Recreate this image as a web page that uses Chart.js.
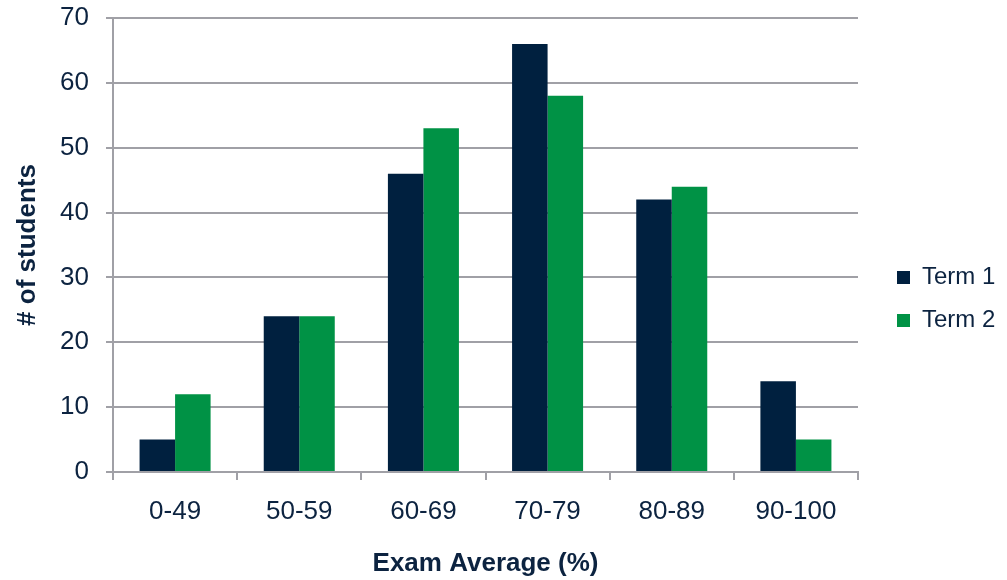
<!DOCTYPE html>
<html>
<head>
<meta charset="utf-8">
<script src="https://cdn.jsdelivr.net/npm/chart.js@4.4.0/dist/chart.umd.min.js"></script>
<style>
  html, body { margin: 0; padding: 0; background: #fff; }
  #wrap { width: 1007px; height: 580px; }
</style>
</head>
<body>
<div id="wrap"><canvas id="chart" width="1007" height="580"></canvas></div>
<script>
// Exam average distribution, two terms
const categories = ['0-49', '50-59', '60-69', '70-79', '80-89', '90-100'];
const term1 = [5, 24, 46, 66, 42, 14];
const term2 = [12, 24, 53, 58, 44, 5];
const yTicks = [0, 10, 20, 30, 40, 50, 60, 70];

const TEXT = '#0C2340';
const GRID = '#A0A0A6';
const FONT = 'Liberation Sans, Arial, sans-serif';

// pin the legend where the reference has it
const legendPlace = {
  id: 'legendPlace',
  beforeLayout(chart) {
    const lg = chart.legend;
    if (lg && !lg._pinned) {
      const fit = lg.fit.bind(lg);
      lg.fit = function () { fit(); this.width = 149; };
      lg._pinned = true;
    }
  },
  afterLayout(chart) {
    const lg = chart.legend;
    if (!lg) return;
    const pad = lg.options.labels.padding;
    lg.left = 897 - pad;
    lg.right = lg.left + lg.width;
  }
};

const ctx = document.getElementById('chart').getContext('2d');
new Chart(ctx, {
  type: 'bar',
  data: {
    labels: categories,
    datasets: [
      { label: 'Term 1', data: term1, backgroundColor: '#00203F' },
      { label: 'Term 2', data: term2, backgroundColor: '#009245' }
    ]
  },
  plugins: [legendPlace],
  options: {
    responsive: false,
    animation: false,
    layout: { padding: { top: 18, right: 0, left: 0, bottom: 0 } },
    datasets: { bar: { categoryPercentage: 0.572, barPercentage: 1.0 } },
    plugins: {
      tooltip: { enabled: false },
      legend: {
        position: 'right',
        labels: {
          color: TEXT,
          font: { family: FONT, size: 24 },
          boxWidth: 13,
          boxHeight: 13,
          padding: 19
        }
      }
    },
    scales: {
      x: {
        afterFit: s => { s.height = 108; },
        border: { color: GRID, width: 2 },
        grid: { offset: true, drawOnChartArea: false, color: GRID, lineWidth: 2, tickLength: 8 },
        ticks: { color: TEXT, font: { family: FONT, size: 26 }, padding: 16, maxRotation: 0 },
        title: {
          display: true, text: 'Exam Average (%)', color: TEXT,
          font: { family: FONT, size: 26, weight: 'bold' }, padding: { top: 0, bottom: 1 }
        }
      },
      y: {
        min: 0, max: 70,
        afterBuildTicks: s => { s.ticks = yTicks.map(v => ({ value: v })); },
        afterFit: s => { s.width = 113; s.paddingTop = 0; s.paddingBottom = 0; },
        border: { color: GRID, width: 2 },
        grid: { color: GRID, lineWidth: 2, tickLength: 7 },
        ticks: { color: TEXT, font: { family: FONT, size: 26 }, padding: 17 },
        title: {
          display: true, text: '# of students', color: TEXT,
          font: { family: FONT, size: 26, weight: 'bold' }, padding: { top: 12, bottom: 0 }
        }
      }
    }
  }
});
</script>
</body>
</html>
